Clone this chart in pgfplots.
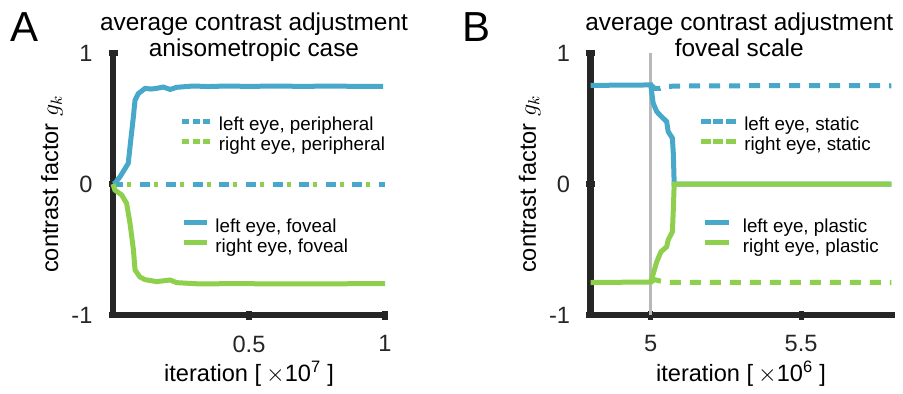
\documentclass[border=0pt]{standalone}
\usepackage{fontspec}
\setmainfont{Liberation Sans}
\usepackage{pgfplots}
\pgfplotsset{compat=1.18}
\definecolor{cblue}{RGB}{72,168,202}
\definecolor{cgreen}{RGB}{142,208,78}
\definecolor{axgray}{RGB}{38,38,38}
\definecolor{vgray}{RGB}{185,185,185}
\pgfplotsset{
  base/.style={
    scale only axis, ymin=-1, ymax=1, height=131pt, clip=false,
    axis lines*=left,
    axis line style={line width=3.2pt, color=axgray, line cap=rect},
    tick style={line width=2.6pt, color=axgray},
    major tick length=4.5pt, tick align=center,
    ytick={-1,0,1}, yticklabels={-1,0,1},
    /pgf/number format/assume math mode=true,
    ticklabel style={font=\fontsize{11.8}{14}\selectfont, text=axgray},
    xticklabel style={yshift=-4.5pt},
    yticklabel style={xshift=-4.5pt},
    label style={font=\fontsize{11.8}{14}\selectfont},
    xlabel style={at={(axis description cs:0.5,0)}, anchor=base, yshift=-33.3pt},
    ylabel={contrast factor $g_k$},
    legend style={draw=none, fill=none, inner sep=0pt, outer sep=0pt,
      font=\fontsize{9.4}{11}\selectfont, row sep=0pt, column sep=3pt,
      nodes={inner sep=0pt, text height=7pt, text depth=3pt}},
    legend cell align=left,
  },
}
\begin{document}
\begin{tikzpicture}
\useasboundingbox (0,0) rectangle (451.5pt,196.5pt);
% ---------------- Panel A ----------------
\begin{axis}[base, width=136pt, xmin=0, xmax=1, xtick={0.5,1}, xticklabels={0.5,1},
  at={(56.5pt,39pt)}, anchor=south west,
  ylabel style={at={(axis description cs:-0.2243,0.5)}, anchor=center},
  xlabel={iteration [\hspace{2.5pt}$\times$10\textsuperscript{7}\hspace{3pt}]},
  legend style={at={(axis description cs:0.246,0.757)}, anchor=north west},
  legend image code/.code={\draw[#1, line width=2.5pt] (0pt,2.8pt) -- (14pt,2.8pt);}]
\addplot[cblue, line width=2.5pt, dash pattern=on 5pt off 8.3pt, forget plot] coordinates {(0,0) (1,0)};
\addplot[cgreen, line width=2.5pt, dash pattern=on 2pt off 11.3pt, dash phase=-7pt, forget plot] coordinates {(0,0) (1,0)};
\addlegendimage{cblue, dash pattern=on 3.5pt off 1.75pt}
\addlegendentry{left eye, peripheral}
\addlegendimage{cgreen, dash pattern=on 3.5pt off 1.75pt}
\addlegendentry{right eye, peripheral}
\addplot[cblue, line width=2.5pt, forget plot] coordinates {
(0,0) (0.007,0.005) (0.026,0.056) (0.045,0.12) (0.056,0.158) (0.065,0.33) (0.075,0.514) (0.081,0.64) (0.093,0.69) (0.118,0.73) (0.14,0.725) (0.16,0.73) (0.185,0.74) (0.21,0.722) (0.234,0.738) (0.295,0.748) (0.35,0.744) (0.42,0.748) (0.5,0.745) (0.6,0.748) (0.7,0.745) (0.8,0.748) (0.9,0.745) (0.993,0.746)};
\addplot[cgreen, line width=2.5pt, forget plot] coordinates {
(0,0) (0.007,-0.046) (0.032,-0.084) (0.05,-0.147) (0.0625,-0.30) (0.075,-0.50) (0.081,-0.656) (0.099,-0.71) (0.118,-0.73) (0.16,-0.745) (0.21,-0.733) (0.234,-0.753) (0.32,-0.763) (0.45,-0.76) (0.6,-0.763) (0.8,-0.762) (1.0,-0.76)};
\end{axis}
\begin{axis}[base, width=136pt, xmin=0, xmax=1, hide axis, at={(56.5pt,39pt)}, anchor=south west,
  legend style={at={(axis description cs:0.246,0.369)}, anchor=north west},
  legend image code/.code={\path[draw=none] (0pt,2.8pt) -- (14pt,2.8pt); \draw[#1, line width=2.5pt] (2pt,2.8pt) -- (13.5pt,2.8pt);}]
\addlegendimage{cblue}
\addlegendentry{left eye, foveal}
\addlegendimage{cgreen}
\addlegendentry{right eye, foveal}
\end{axis}
% ---------------- Panel B ----------------
\begin{axis}[base, width=150.35pt, xmin=4.8, xmax=5.8, xtick={5,5.5}, xticklabels={5,5.5},
  at={(295.3pt,39pt)}, anchor=south west,
  ylabel style={at={(axis description cs:-0.2029,0.5)}, anchor=center},
  xlabel={iteration [\hspace{2.5pt}$\times$10\textsuperscript{6}\hspace{3pt}]},
  legend style={at={(axis description cs:0.358,0.757)}, anchor=north west},
  legend image code/.code={\draw[#1, line width=2.5pt] (0pt,2.8pt) -- (17.5pt,2.8pt);}]
\addplot[vgray, line width=1.5pt, forget plot] coordinates {(5,-1) (5,1)};
\addplot[cblue, line width=2.5pt, dash pattern=on 5.5pt off 4.5pt, forget plot] coordinates {
(5.0,0.756) (5.013,0.73) (5.031,0.73) (5.05,0.745) (5.1,0.748) (5.3,0.75) (5.5,0.752) (5.8,0.75)};
\addplot[cgreen, line width=2.5pt, dash pattern=on 5.5pt off 4.5pt, forget plot] coordinates {
(5.0,-0.748) (5.013,-0.73) (5.03,-0.74) (5.06,-0.752) (5.1,-0.75) (5.3,-0.752) (5.5,-0.75) (5.8,-0.752)};
\addlegendimage{cblue, dash pattern=on 5pt off 1.25pt}
\addlegendentry{left eye, static}
\addlegendimage{cgreen, dash pattern=on 5pt off 1.25pt}
\addlegendentry{right eye, static}
\addplot[cblue, line width=2.5pt, forget plot] coordinates {
(4.8,0.752) (4.9,0.755) (5.0,0.756) (5.008,0.618) (5.02,0.552) (5.036,0.514) (5.053,0.476) (5.058,0.40) (5.072,0.35) (5.075,0.234) (5.078,0.0) (5.8,0)};
\addplot[cgreen, line width=2.5pt, forget plot] coordinates {
(4.8,-0.752) (4.9,-0.75) (5.0,-0.748) (5.009,-0.68) (5.02,-0.593) (5.034,-0.517) (5.053,-0.479) (5.058,-0.427) (5.072,-0.364) (5.075,-0.198) (5.078,0) (5.8,0)};
\end{axis}
\begin{axis}[base, width=150.35pt, xmin=4.8, xmax=5.8, hide axis, at={(295.3pt,39pt)}, anchor=south west,
  legend style={at={(axis description cs:0.37,0.369)}, anchor=north west},
  legend image code/.code={\path[draw=none] (0pt,2.8pt) -- (17.5pt,2.8pt); \draw[#1, line width=2.5pt] (1.7pt,2.8pt) -- (13.7pt,2.8pt);}]
\addlegendimage{cblue}
\addlegendentry{left eye, plastic}
\addlegendimage{cgreen}
\addlegendentry{right eye, plastic}
\end{axis}
% ---------------- titles and panel letters ----------------
\node[anchor=base, font=\fontsize{12.2}{14}\selectfont] at (127pt,181.5pt) {average contrast adjustment};
\node[anchor=base, font=\fontsize{12.2}{14}\selectfont] at (127pt,168.25pt) {anisometropic case};
\node[anchor=base, font=\fontsize{12.2}{14}\selectfont] at (369.65pt,181.5pt) {average contrast adjustment};
\node[anchor=base, font=\fontsize{12.2}{14}\selectfont] at (369.65pt,168.25pt) {foveal scale};
\node[anchor=base west, inner sep=0pt, font=\fontsize{21}{24}\selectfont] at (5pt,175.65pt) {A};
\node[anchor=base west, inner sep=0pt, font=\fontsize{21}{24}\selectfont] at (230.8pt,175.65pt) {B};
\end{tikzpicture}
\end{document}
